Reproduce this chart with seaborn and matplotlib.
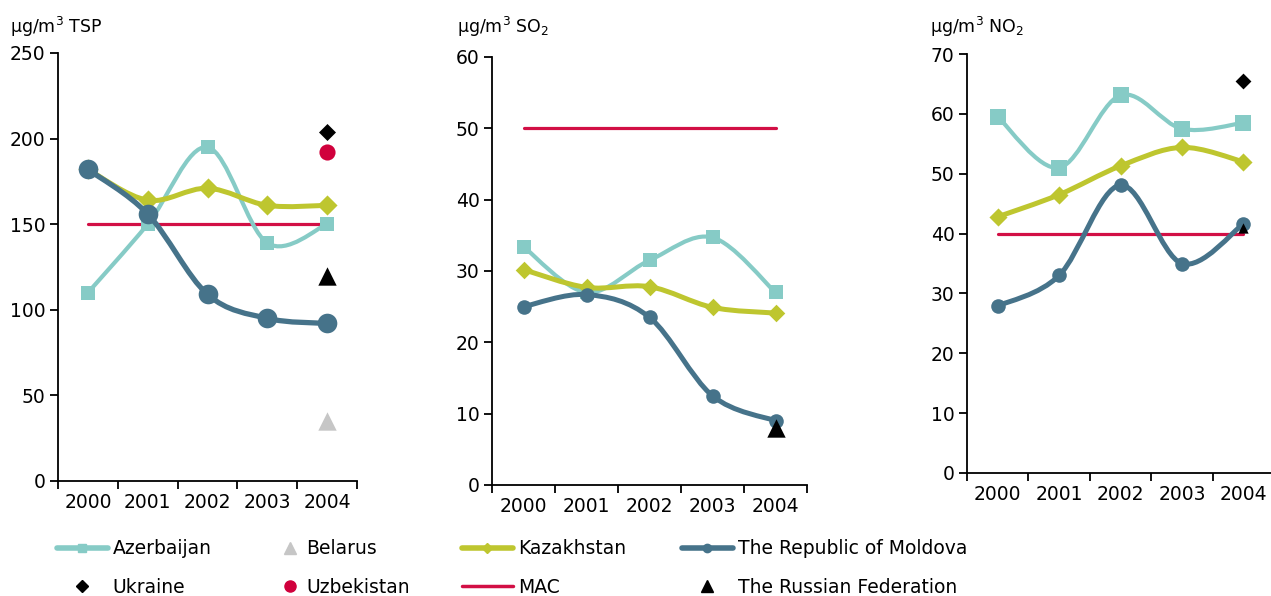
import numpy as np
import pandas as pd
import matplotlib
matplotlib.use("Agg")
import matplotlib.pyplot as plt
import seaborn as sns
from matplotlib.path import Path
from matplotlib.patches import PathPatch
from matplotlib.lines import Line2D

# ---------------- data ----------------
years = ["2000", "2001", "2002", "2003", "2004"]

tsp_azerbaijan = [110, 150, 195, 139, 150]
tsp_kazakhstan = [182, 164, 171, 161, 161]
tsp_moldova = [182, 156, 109, 95, 92]
tsp_mac = 150
tsp_ukraine_2004 = 204
tsp_uzbekistan_2004 = 192
tsp_russia_2004 = 120
tsp_belarus_2004 = 35

so2_azerbaijan = [33.4, 27.0, 31.5, 34.7, 27.0]
so2_kazakhstan = [30.2, 27.7, 27.8, 24.9, 24.1]
so2_moldova = [25.0, 26.7, 23.5, 12.5, 9.0]
so2_mac = 50
so2_russia_2004 = 8.0

no2_azerbaijan = [59.5, 51.0, 63.1, 57.5, 58.5]
no2_kazakhstan = [42.8, 46.5, 51.3, 54.4, 52.0]
no2_moldova = [27.9, 33.0, 48.1, 35.0, 41.6]
no2_mac = 40
no2_ukraine_2004 = 65.5
no2_russia_2004 = 41.0

legend_labels = ["Azerbaijan", "Belarus", "Kazakhstan", "The Republic of Moldova",
                 "Ukraine", "Uzbekistan", "MAC", "The Russian Federation"]

# ---------------- style ----------------
C_AZ = "#86CBC6"
C_KZ = "#BEC62F"
C_MD = "#46738A"
C_MAC = "#D20F45"
C_BY = "#C6C6C6"
C_UZ = "#D0003C"
C_BLACK = "#000000"

sns.set_theme(style="white")
plt.rcParams["font.family"] = ["DejaVu Sans"]
plt.rcParams["text.color"] = "black"

W, H = 1271, 596
fig = plt.figure(figsize=(W / 100, H / 100), dpi=100)

xpos = np.arange(len(years))
last = xpos[-1]


def smooth_line(ax, ys, color, lw, z):
    pts = np.column_stack([xpos, ys]).astype(float)
    n = len(pts)
    verts = [pts[0]]
    codes = [Path.MOVETO]
    for i in range(n - 1):
        p0 = pts[max(i - 1, 0)]
        p1 = pts[i]
        p2 = pts[i + 1]
        p3 = pts[min(i + 2, n - 1)]
        c1 = p1 + (p2 - p0) / 6.0
        c2 = p2 - (p3 - p1) / 6.0
        verts += [c1, c2, p2]
        codes += [Path.CURVE4] * 3
    ax.add_patch(PathPatch(Path(verts, codes), fill=False, edgecolor=color,
                           lw=lw, capstyle="round", joinstyle="round", zorder=z))


def markers(ax, xs, ys, marker, s, color, z):
    sns.scatterplot(x=list(xs), y=list(ys), marker=marker, s=s, color=color,
                    linewidth=0, ax=ax, zorder=z, legend=False)


def setup_axes(rect, ymax, ystep):
    ax = fig.add_axes(rect)
    ax.set_xlim(-0.5, len(years) - 0.5)
    ax.set_ylim(0, ymax)
    ax.set_facecolor("white")
    for sp in ["top", "right"]:
        ax.spines[sp].set_visible(False)
    for sp in ["left", "bottom"]:
        ax.spines[sp].set_color("black")
        ax.spines[sp].set_linewidth(1.3)
    ax.set_xticks(xpos)
    ax.set_xticklabels(years, fontsize=13.5)
    ax.set_xticks(np.arange(-0.5, len(years)), minor=True)
    ax.tick_params(axis="x", which="major", length=0, pad=9, colors="black")
    ax.tick_params(axis="x", which="minor", length=6, width=1.3, direction="out",
                   color="black", bottom=True)
    ax.set_yticks(np.arange(0, ymax + 0.1, ystep))
    ax.tick_params(axis="y", which="major", length=6, width=1.3, direction="out",
                   labelsize=13.5, pad=3, colors="black", left=True)
    ax.set_xlabel("")
    ax.set_ylabel("")
    ax.grid(False)
    return ax


def draw_panel(ax, az, kz, md, mac, az_s, kz_s, md_s, lw_md):
    sns.lineplot(x=xpos, y=[mac] * len(years), color=C_MAC, lw=2.3, ax=ax,
                 zorder=1, legend=False)
    smooth_line(ax, az, C_AZ, 3.0, 2)
    markers(ax, xpos, az, "s", az_s, C_AZ, 2.5)
    smooth_line(ax, kz, C_KZ, 3.6, 3)
    markers(ax, xpos, kz, "D", kz_s, C_KZ, 3.5)
    smooth_line(ax, md, C_MD, lw_md, 4)
    markers(ax, xpos, md, "o", md_s, C_MD, 4.5)


# ---- panel 1: TSP ----
ax1 = setup_axes([58 / W, 1 - 481 / H, 299 / W, 428 / H], 250, 50)
draw_panel(ax1, tsp_azerbaijan, tsp_kazakhstan, tsp_moldova, tsp_mac, 100, 105, 200, 3.8)
markers(ax1, [last], [tsp_ukraine_2004], "D", 75, C_BLACK, 6)
markers(ax1, [last], [tsp_uzbekistan_2004], "o", 135, C_UZ, 6)
markers(ax1, [last], [tsp_russia_2004], "^", 175, C_BLACK, 6)
markers(ax1, [last], [tsp_belarus_2004], "^", 175, C_BY, 6)

# ---- panel 2: SO2 ----
ax2 = setup_axes([492 / W, 1 - 485 / H, 315 / W, 428 / H], 60, 10)
draw_panel(ax2, so2_azerbaijan, so2_kazakhstan, so2_moldova, so2_mac, 90, 80, 110, 3.6)
markers(ax2, [last], [so2_russia_2004], "^", 175, C_BLACK, 6)

# ---- panel 3: NO2 ----
ax3 = setup_axes([967 / W, 1 - 473 / H, 307 / W, 419 / H], 70, 10)
draw_panel(ax3, no2_azerbaijan, no2_kazakhstan, no2_moldova, no2_mac, 120, 85, 110, 3.6)
markers(ax3, [last], [no2_ukraine_2004], "D", 65, C_BLACK, 6)
markers(ax3, [last], [no2_russia_2004], "^", 55, C_BLACK, 6)

# ---- unit labels ----
fig.text(10 / W, 1 - 33 / H, "μg/m$^3$ TSP", fontsize=12.5, ha="left", va="baseline", color="black")
fig.text(457 / W, 1 - 33 / H, "μg/m$^3$ SO$_2$", fontsize=12.5, ha="left", va="baseline", color="black")
fig.text(930 / W, 1 - 33 / H, "μg/m$^3$ NO$_2$", fontsize=12.5, ha="left", va="baseline", color="black")

# ---- legend (four columns) ----
h_az = Line2D([], [], color=C_AZ, lw=4, marker="s", ms=6)
h_by = Line2D([], [], color=C_BY, lw=0, marker="^", ms=9)
h_kz = Line2D([], [], color=C_KZ, lw=4, marker="D", ms=5)
h_md = Line2D([], [], color=C_MD, lw=4, marker="o", ms=6)
h_ua = Line2D([], [], color=C_BLACK, lw=0, marker="D", ms=6)
h_uz = Line2D([], [], color=C_UZ, lw=0, marker="o", ms=8)
h_mac = Line2D([], [], color=C_MAC, lw=2.5)
h_ru = Line2D([], [], color=C_BLACK, lw=0, marker="^", ms=9)

handles = [h_az, h_by, h_kz, h_md, h_ua, h_uz, h_mac, h_ru]
col_x = [57, 280, 462, 682]
col_hl = [2.7, 1.1, 2.7, 2.7]
for c in range(4):
    hs = [handles[c], handles[c + 4]]
    ls = [legend_labels[c], legend_labels[c + 4]]
    leg = fig.legend(hs, ls, loc="center left",
                     bbox_to_anchor=(col_x[c] / W, 1 - 568 / H),
                     frameon=False, fontsize=13.5, handlelength=col_hl[c],
                     handletextpad=0.28, labelspacing=1.05, borderpad=0,
                     borderaxespad=0)
    for t in leg.get_texts():
        t.set_color("black")

fig.savefig("out.png", dpi=100, facecolor="white")
